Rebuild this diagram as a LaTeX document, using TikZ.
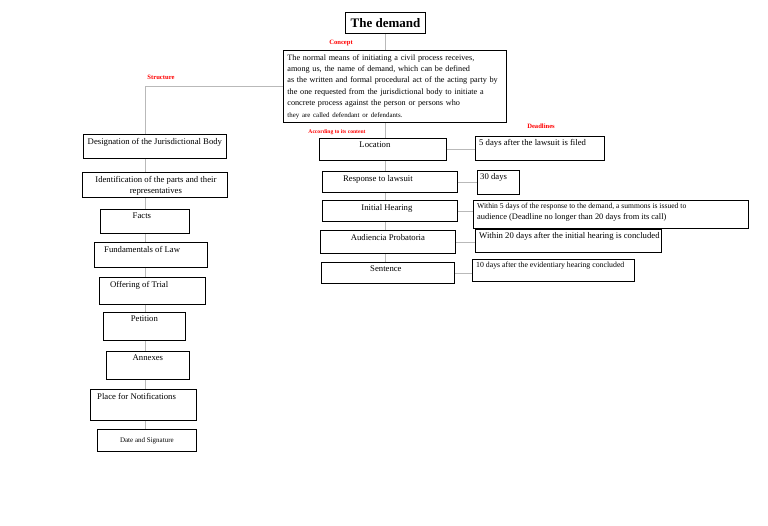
\documentclass[tikz,border=0pt]{standalone}
\usepackage{fontspec}
\setmainfont{Liberation Serif}
\begin{document}
\begin{tikzpicture}[x=1pt,y=-1pt,
  box/.style={draw, line width=0.8pt, inner sep=0pt, anchor=north west},
  conn/.style={draw=gray!55, line width=0.7pt},
  redlab/.style={text=red, font=\fontsize{6.6}{7}\selectfont\bfseries, inner sep=0pt},
  txt/.style={font=\fontsize{8.7}{10.5}\selectfont, inner sep=0pt},
  tc/.style={txt, anchor=north, yshift=-4pt},
  tl/.style={txt, anchor=north west, yshift=-4pt}]
\useasboundingbox (0,0) rectangle (768,525);
\fill[white] (0,0) rectangle (768,525);

\node[box, line width=1pt, minimum width=80pt, minimum height=21pt,
  font=\fontsize{13}{15}\selectfont\bfseries] (title) at (345,12) {The demand};

\node[box, text width=215pt, inner xsep=4pt, inner ysep=2pt, minimum height=72pt,
  align=left, font=\fontsize{8.2}{11.4}\selectfont] (concept) at (283,50)
  {\makebox[213pt][s]{The normal means of initiating a civil process receives,}\\
   among us, the name of demand, which can be defined\\
   as the written and formal procedural act of the acting party by\\
   \makebox[211pt][s]{the one requested from the jurisdictional body to initiate a}\\
   \makebox[193pt][s]{concrete process against the person or persons who}\\
   {\fontsize{6.9}{8}\selectfont they are called defendant or defendants.}};

\node[redlab] (lconcept) at (341,43) {Concept};
\node[redlab] (lstruct) at (161,77) {Structure};
\node[redlab, font=\fontsize{5.6}{6}\selectfont\bfseries] (lcontent) at (337,132) {According to its content};
\node[redlab] (ldead) at (541,126) {Deadlines};

% left column
\node[box, minimum width=143pt, minimum height=24pt,
  label={[tc]north:Designation of the Jurisdictional Body}] (des) at (83,134) {};
\node[box, minimum width=145pt, minimum height=25pt,
  label={[tc, align=center, xshift=1pt, font=\fontsize{8.7}{11}\selectfont]north:Identification of the parts and their\\representatives}] (ident) at (82,172) {};
\node[box, minimum width=89pt, minimum height=24pt,
  label={[tc, xshift=-3pt]north:Facts}] (facts) at (100,209) {};
\node[box, minimum width=113pt, minimum height=25pt,
  label={[tl, xshift=10pt]north west:Fundamentals of Law}] (fund) at (94,242) {};
\node[box, minimum width=106pt, minimum height=27pt,
  label={[tl, xshift=11pt]north west:Offering of Trial}] (offer) at (99,277) {};
\node[box, minimum width=82pt, minimum height=28pt,
  label={[tc]north:Petition}] (pet) at (103,312) {};
\node[box, minimum width=83pt, minimum height=28pt,
  label={[tc]north:Annexes}] (annex) at (106,351) {};
\node[box, minimum width=106pt, minimum height=31pt,
  label={[tl, xshift=7pt]north west:Place for Notifications}] (place) at (90,389) {};
\node[box, minimum width=99pt, minimum height=22pt,
  font=\fontsize{7}{8}\selectfont] (date) at (97,429) {Date and Signature};

% middle column
\node[box, minimum width=127pt, minimum height=22pt,
  label={[tc, xshift=-8pt]north:Location}] (loc) at (319,138) {};
\node[box, minimum width=135pt, minimum height=21pt,
  label={[tc, xshift=-12pt]north:Response to lawsuit}] (resp) at (322,171) {};
\node[box, minimum width=135pt, minimum height=21pt,
  label={[tc, xshift=-3pt]north:Initial Hearing}] (init) at (322,200) {};
\node[box, minimum width=135pt, minimum height=23pt,
  label={[tc]north:Audiencia Probatoria}] (aud) at (320,230) {};
\node[box, minimum width=133pt, minimum height=21pt,
  label={[tc, xshift=-2pt]north:Sentence}] (sent) at (321,262) {};

% right column
\node[box, minimum width=129pt, minimum height=24pt,
  label={[tl, xshift=4pt, yshift=1pt]north west:5 days after the lawsuit is filed}] (d1) at (475,136) {};
\node[box, minimum width=42pt, minimum height=24pt,
  label={[tl, xshift=3pt, yshift=1pt]north west:30 days}] (d2) at (477,170) {};
\node[box, minimum width=275pt, minimum height=28pt,
  label={[tl, xshift=4pt, yshift=1pt, align=left, font=\fontsize{8.4}{11}\selectfont]north west:{\fontsize{7.6}{8}\selectfont Within 5 days of the response to the demand, a summons is issued to}\\audience (Deadline no longer than 20 days from its call)}] (d3) at (473,200) {};
\node[box, minimum width=186pt, minimum height=23pt,
  label={[tl, xshift=4pt, yshift=1pt]north west:Within 20 days after the initial hearing is concluded}] (d4) at (475,229) {};
\node[box, minimum width=162pt, minimum height=22pt,
  label={[tl, xshift=4pt, yshift=1pt, font=\fontsize{7.8}{9}\selectfont]north west:10 days after the evidentiary hearing concluded}] (d5) at (472,259) {};

% connectors
\coordinate (ls) at (145,84);
\coordinate (ms) at (385,0);
\draw[conn] (title.south) -- (title.south |- concept.north);
\draw[conn] (concept.west) -| (ls |- des.north);
\foreach \a/\b in {des/ident, ident/facts, facts/fund, fund/offer, offer/pet, pet/annex, annex/place, place/date}
  \draw[conn] (ls |- \a.south) -- (ls |- \b.north);
\draw[conn] (ms |- concept.south) -- (ms |- loc.north);
\foreach \a/\b in {loc/resp, resp/init, init/aud, aud/sent}
  \draw[conn] (ms |- \a.south) -- (ms |- \b.north);
\foreach \a/\b in {loc/d1, resp/d2, init/d3, aud/d4, sent/d5}
  \draw[conn] (\a.east) -- (\a.east -| \b.west);
\end{tikzpicture}
\end{document}
